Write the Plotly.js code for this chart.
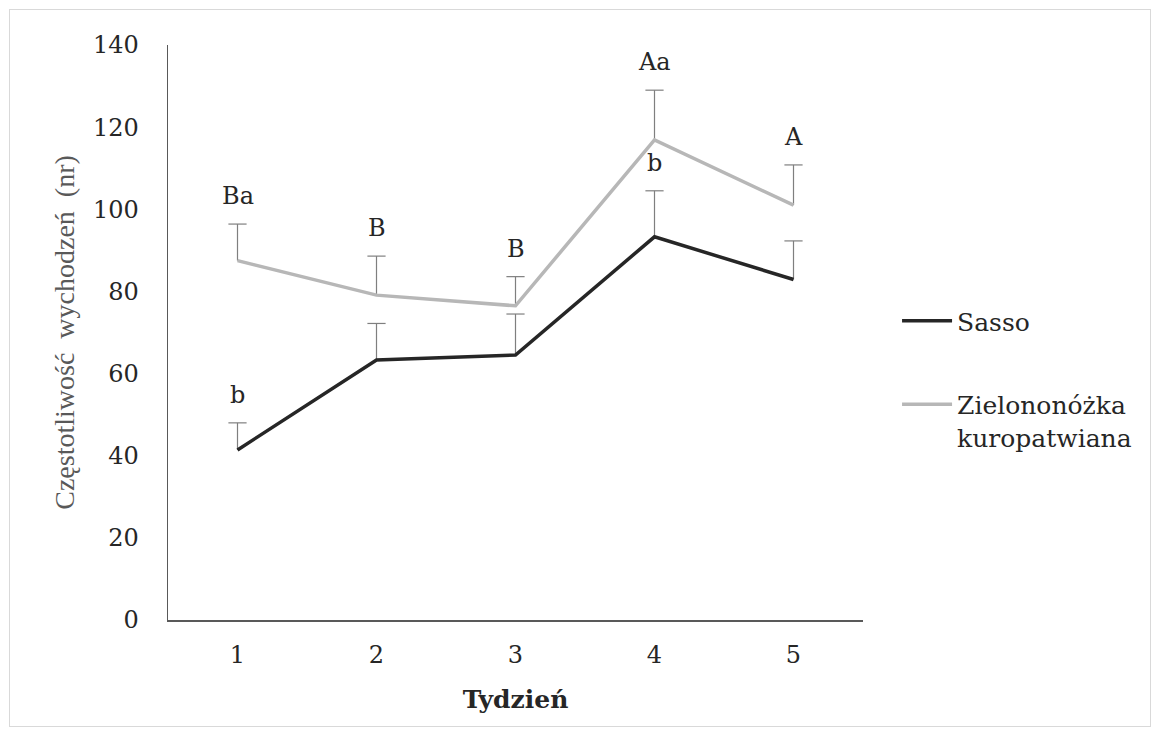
<!DOCTYPE html>
<html>
<head>
<meta charset="utf-8">
<script src="https://cdn.plot.ly/plotly-3.0.1.min.js"></script>
<style>
html,body{margin:0;padding:0;background:#fff;}
#wrap{position:absolute;left:9px;top:9px;width:1142px;height:718px;border:1px solid #d9d9d9;box-sizing:border-box;}
#chart{width:1140px;height:716px;}
</style>
</head>
<body>
<div id="wrap"><div id="chart"></div></div>
<script>
const weeks = ['1','2','3','4','5'];
const sassoValues = [41.4, 63.3, 64.5, 93.3, 82.9];
const sassoErrors = [6.6, 8.9, 10.0, 11.2, 9.4];
const zielValues = [87.5, 79.1, 76.5, 116.9, 101.0];
const zielErrors = [8.9, 9.5, 7.1, 12.1, 9.8];
const sassoLetters = ['b', '', '', 'b', ''];
const zielLetters = ['Ba', 'B', 'B', 'Aa', 'A'];
const yTicks = [0, 20, 40, 60, 80, 100, 120, 140];

const wideSerif = 'DejaVu Serif';
const narrowSerif = 'Liberation Serif';
const errColor = '#7f7f7f';
const textColor = '#262626';

function capTrace(vals, errs) {
  return {
    x: weeks, y: vals.map((v, i) => v + errs[i]), type: 'scatter', mode: 'markers',
    showlegend: false, hoverinfo: 'skip',
    marker: {symbol: 'line-ew', size: 13, color: errColor, line: {color: errColor, width: 1.2}}
  };
}

const traces = [
  capTrace(sassoValues, sassoErrors),
  capTrace(zielValues, zielErrors),
  {
    x: weeks, y: sassoValues, name: 'Sasso', type: 'scatter', mode: 'lines', legendgroup: 'g1',
    line: {color: '#262626', width: 3.5},
    error_y: {type: 'data', array: sassoErrors, symmetric: false, arrayminus: sassoErrors.map(() => 0),
              color: errColor, thickness: 1.2, width: 0}
  },
  {
    x: weeks, y: zielValues, name: 'Zielononóżka<br>kuropatwiana', type: 'scatter', mode: 'lines', legendgroup: 'g2',
    line: {color: '#b7b7b7', width: 3.5},
    error_y: {type: 'data', array: zielErrors, symmetric: false, arrayminus: zielErrors.map(() => 0),
              color: errColor, thickness: 1.2, width: 0}
  }
];

const annotations = [];
function addLetters(letters, vals, errs) {
  letters.forEach((t, i) => {
    if (!t) return;
    annotations.push({
      x: i, y: vals[i] + errs[i], xref: 'x', yref: 'y',
      text: t, showarrow: false, yanchor: 'middle', yshift: 28,
      font: {family: wideSerif, size: 24, color: textColor}
    });
  });
}
addLetters(zielLetters, zielValues, zielErrors);
addLetters(sassoLetters, sassoValues, sassoErrors);

const layout = {
  width: 1140, height: 716,
  margin: {l: 158, r: 287, t: 35, b: 106},
  paper_bgcolor: '#ffffff', plot_bgcolor: '#ffffff',
  showlegend: true,
  legend: {
    x: 1.049, y: 0.56, xanchor: 'left', yanchor: 'top', valign: 'top',
    font: {family: wideSerif, size: 25, color: textColor},
    tracegroupgap: 48, itemwidth: 50, traceorder: 'grouped'
  },
  xaxis: {
    type: 'category', range: [-0.5, 4.5],
    showline: true, linecolor: '#595959', linewidth: 1.5,
    showgrid: false, zeroline: false, ticks: '',
    ticklabelstandoff: 13,
    tickfont: {family: wideSerif, size: 24, color: textColor},
    title: {text: '<b>Tydzień</b>', font: {family: wideSerif, size: 25, color: textColor}, standoff: 22}
  },
  yaxis: {
    range: [0, 140], tickvals: yTicks,
    showline: true, linecolor: '#595959', linewidth: 1.5,
    showgrid: false, zeroline: false, ticks: '',
    ticklabelstandoff: 23,
    tickfont: {family: wideSerif, size: 24, color: textColor},
    title: {text: 'Częstotliwość  wychodzeń  (nr)', font: {family: narrowSerif, size: 28, color: '#595959'}, standoff: 10}
  },
  annotations: annotations
};

Plotly.newPlot('chart', traces, layout, {displayModeBar: false, staticPlot: true});
</script>
</body>
</html>
